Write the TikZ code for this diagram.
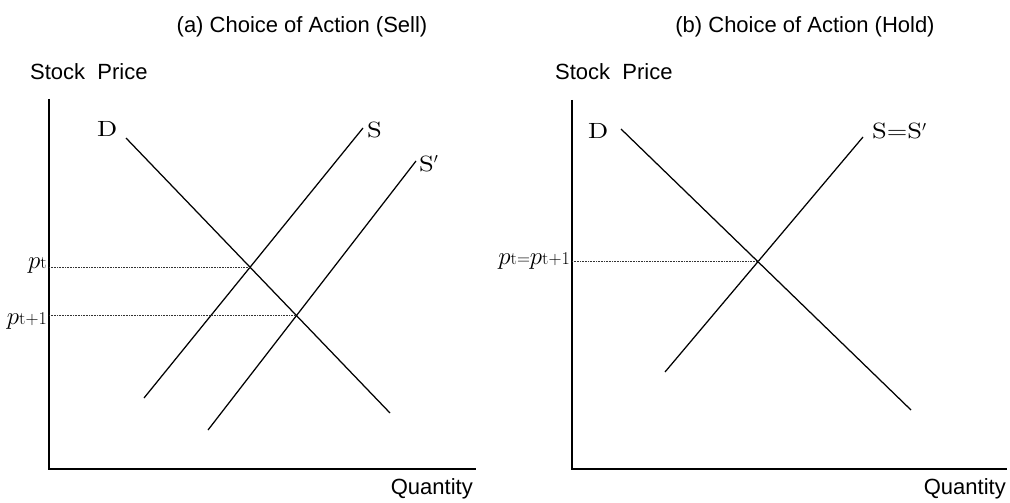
\documentclass[tikz,border=0pt]{standalone}
\usepackage{fontspec}
\setsansfont{Liberation Sans}
\newfontfamily\wideserif[Extension=.otf,FakeStretch=1.2]{lmroman10-regular}
\newcommand{\pvar}{{\fontsize{29}{29}\selectfont$p$}}
\newcommand{\psubtxt}[1]{{\fontsize{18}{18}\selectfont #1}}
\begin{document}
\begin{tikzpicture}[x=1pt,y=-1pt,
  axis/.style={line width=1.4pt},
  curve/.style={line width=1.25pt},
  guide/.style={densely dotted, line width=0.6pt, black!80},
  sanslbl/.style={font=\sffamily\fontsize{22}{22}\selectfont, inner sep=0pt},
  mathlbl/.style={font=\wideserif\fontsize{22}{22}\selectfont, inner sep=0pt},
  plbl/.style={inner sep=0pt}]
\useasboundingbox (0,0) rectangle (1010,503);

% titles
\node[sanslbl, anchor=base] (ta) at (302,33) {(a) Choice of Action (Sell)};
\node[sanslbl, anchor=base] (tb) at (805,33) {(b) Choice of Action (Hold)};

% ---------- left panel ----------
\coordinate (LO) at (49,469);
\coordinate (LT) at (49,99);
\coordinate (LR) at (476,469);
\draw[axis] (LT) -- (LO) -- (LR);
\node[sanslbl, anchor=base west] (yla) at (30,80) {Stock\ \ Price};
\node[sanslbl, anchor=base east] (xla) at (473,494) {Quantity};

\coordinate (D1a) at (126,138);
\coordinate (D1b) at (390,413);
\coordinate (S1a) at (363,128);
\coordinate (S1b) at (144,398);
\coordinate (T1a) at (416,161);
\coordinate (T1b) at (208,430);
\draw[curve] (D1a) -- (D1b);
\draw[curve] (S1a) -- (S1b);
\draw[curve] (T1a) -- (T1b);
\coordinate (A) at (intersection of D1a--D1b and S1a--S1b);
\coordinate (B) at (intersection of D1a--D1b and T1a--T1b);
\draw[guide] (LO |- A) -- (A);
\draw[guide] (LO |- B) -- (B);

\node[mathlbl, anchor=base west] (dla) at (97,136) {D};
\node[mathlbl, anchor=base west] (sla) at (367,137) {S};
\node[mathlbl, anchor=base west] (tla) at (419,171) {S$'$};
\node[plbl, anchor=base east] (pta) at (47,268) {\pvar\psubtxt{t}};
\node[plbl, anchor=base east] (ptb) at (47,324) {\pvar\psubtxt{t+1}};

% ---------- right panel ----------
\coordinate (RO) at (572,469);
\coordinate (RT) at (572,100);
\coordinate (RR) at (1007,469);
\draw[axis] (RT) -- (RO) -- (RR);
\node[sanslbl, anchor=base west] (ylb) at (555,80) {Stock\ \ Price};
\node[sanslbl, anchor=base east] (xlb) at (1006,494) {Quantity};

\coordinate (D2a) at (621,129);
\coordinate (D2b) at (911,410);
\coordinate (S2a) at (863,137);
\coordinate (S2b) at (665,372);
\draw[curve] (D2a) -- (D2b);
\draw[curve] (S2a) -- (S2b);
\coordinate (C) at (intersection of D2a--D2b and S2a--S2b);
\draw[guide] (RO |- C) -- (C);

\node[mathlbl, anchor=base west] (dlb) at (588,138) {D};
\node[mathlbl, anchor=base west] (slb) at (872,139) {S=S$'$};
\node[plbl, anchor=base east] (pc) at (570,264) {\pvar\psubtxt{t=}\pvar\psubtxt{t+1}};
\end{tikzpicture}
\end{document}
